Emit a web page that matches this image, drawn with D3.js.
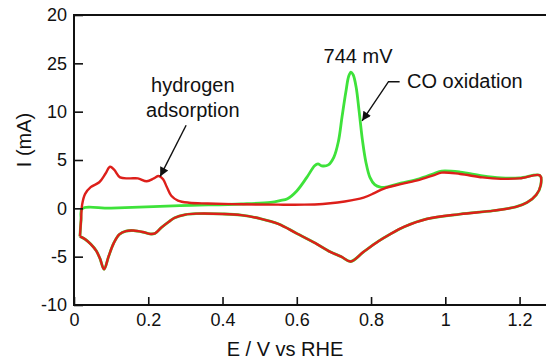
<!DOCTYPE html>
<html lang="en">
<head>
    <meta charset="UTF-8">
    <title>CO stripping voltammogram</title>
    <script src="https://d3js.org/d3.v7.min.js"></script>
    <style>
        body {
            margin: 0;
            background: #fff;
        }
        svg text {
            font-family: "Liberation Sans", Arial, Helvetica, sans-serif;
            fill: #111;
        }
        .tick text {
            font-size: 18px;
        }
        .label {
            font-size: 20px;
        }
    </style>
</head>
<body>
    <div id="chart"></div>
    <script>
        // anodic sweep of the blank CV (red), [E (V), I (mA)]
        const redForward = [
            [0.016, -2.9], [0.019, -1.2], [0.022, 0.4], [0.03, 1.5], [0.045, 2.2],
            [0.068, 2.7], [0.085, 3.6], [0.097, 4.3], [0.108, 4.0], [0.124, 3.2],
            [0.15, 3.1], [0.172, 3.1], [0.196, 2.8], [0.215, 3.1], [0.228, 3.35],
            [0.24, 3.0], [0.25, 2.2], [0.262, 1.3], [0.28, 0.8], [0.31, 0.58],
            [0.36, 0.5], [0.45, 0.42], [0.55, 0.38], [0.62, 0.38], [0.67, 0.45],
            [0.71, 0.6], [0.75, 0.85], [0.78, 1.1], [0.81, 1.6], [0.835, 2.05],
            [0.88, 2.5], [0.93, 2.95], [0.968, 3.4], [0.99, 3.7], [1.04, 3.55],
            [1.1, 3.2], [1.15, 3.05], [1.2, 3.1], [1.255, 3.4]
        ];

        // anodic sweep with adsorbed CO (green)
        const greenForward = [
            [0.016, -2.9], [0.019, -1.2], [0.022, -0.05], [0.1, 0.02], [0.285, 0.28],
            [0.45, 0.45], [0.53, 0.62], [0.555, 0.8], [0.575, 1.0], [0.6, 1.8],
            [0.627, 3.2], [0.648, 4.4], [0.657, 4.6], [0.667, 4.4], [0.685, 4.5],
            [0.7, 5.3], [0.712, 6.9], [0.722, 9.5], [0.732, 12.0], [0.74, 13.7],
            [0.746, 14.1], [0.752, 13.8], [0.76, 12.5], [0.768, 10.0], [0.777, 7.0],
            [0.786, 4.8], [0.797, 3.2], [0.81, 2.45], [0.825, 2.2], [0.84, 2.2],
            [0.88, 2.6], [0.93, 3.05], [0.97, 3.6], [0.99, 3.85], [1.04, 3.75],
            [1.1, 3.35], [1.15, 3.15], [1.2, 3.15], [1.255, 3.4]
        ];

        // cathodic sweep, the same for both scans
        const backward = [
            [1.257, 2.4], [1.245, 1.4], [1.22, 0.6], [1.19, 0.15], [1.13, -0.24],
            [1.04, -0.6], [0.95, -1.1], [0.89, -1.9], [0.85, -2.7], [0.82, -3.4],
            [0.78, -4.5], [0.745, -5.5], [0.72, -5.0], [0.69, -4.5], [0.65, -3.6],
            [0.6, -2.6], [0.55, -1.6], [0.5, -1.05], [0.45, -0.7], [0.4, -0.58],
            [0.33, -0.55], [0.3, -0.65], [0.27, -1.0], [0.255, -1.4], [0.235, -2.0],
            [0.218, -2.6], [0.205, -2.65], [0.185, -2.45], [0.16, -2.3], [0.14, -2.35],
            [0.122, -2.7], [0.107, -3.6], [0.093, -5.0], [0.081, -6.3], [0.07, -5.2],
            [0.06, -4.4], [0.045, -3.7], [0.03, -3.2], [0.016, -2.9]
        ];

        const xTicks = [0, 0.2, 0.4, 0.6, 0.8, 1, 1.2];
        const yTicks = [-10, -5, 0, 5, 10, 15, 20];
        const yTickLabels = ["-10", "-5", "0", "5", "10", "25", "20"];

        const width = 546;
        const height = 363;

        const svg = d3.select("#chart")
            .append("svg")
            .attr("width", width)
            .attr("height", height);

        const x = d3.scaleLinear().domain([0, 1.3]).range([74, 556.7]);
        const y = d3.scaleLinear().domain([-10, 20]).range([305, 15]);

        const line = d3.line()
            .x(d => x(d[0]))
            .y(d => y(d[1]))
            .curve(d3.curveCatmullRom.alpha(0.5));

        // curves: green below, red on top
        svg.append("path")
            .datum(greenForward.concat(backward))
            .attr("fill", "none")
            .attr("stroke", "#3ee23a")
            .attr("stroke-width", 2.8)
            .attr("d", line);

        svg.append("path")
            .datum(redForward.concat(backward))
            .attr("fill", "none")
            .attr("stroke", "#dd1f1a")
            .attr("stroke-width", 2.4)
            .attr("d", line);

        // frame (right side runs past the picture)
        svg.append("rect")
            .attr("x", x(0))
            .attr("y", y(20))
            .attr("width", x(1.3) - x(0))
            .attr("height", y(-10) - y(20))
            .attr("fill", "none")
            .attr("stroke", "#111")
            .attr("stroke-width", 2);

        // axes with inward ticks
        const xAxis = svg.append("g")
            .attr("transform", `translate(0,${y(-10)})`)
            .call(d3.axisBottom(x)
                .tickValues(xTicks)
                .tickFormat(d3.format("~g"))
                .tickSizeInner(-8)
                .tickSizeOuter(0)
                .tickPadding(8));

        const yAxis = svg.append("g")
            .attr("transform", `translate(${x(0)},0)`)
            .call(d3.axisLeft(y)
                .tickValues(yTicks)
                .tickFormat((d, i) => yTickLabels[i])
                .tickSizeInner(-9)
                .tickSizeOuter(0)
                .tickPadding(7));

        [xAxis, yAxis].forEach(g => {
            g.select(".domain").remove();
            g.selectAll(".tick line").attr("stroke", "#111").attr("stroke-width", 1.6);
            g.selectAll(".tick text").attr("fill", "#111");
        });

        // axis titles
        svg.append("text")
            .attr("class", "label")
            .attr("x", 285)
            .attr("y", 356)
            .attr("text-anchor", "middle")
            .text("E / V vs RHE");

        svg.append("text")
            .attr("class", "label")
            .attr("transform", "translate(31,140) rotate(-90)")
            .attr("text-anchor", "middle")
            .text("I (mA)");

        // annotations
        svg.append("defs").append("marker")
            .attr("id", "head")
            .attr("viewBox", "0 0 10 10")
            .attr("refX", 10)
            .attr("refY", 5)
            .attr("markerWidth", 11)
            .attr("markerHeight", 9)
            .attr("markerUnits", "userSpaceOnUse")
            .attr("orient", "auto")
            .append("path")
            .attr("d", "M0,0L10,5L0,10Z")
            .attr("fill", "#111");

        svg.append("text")
            .attr("class", "label")
            .attr("x", x(0.32))
            .attr("y", y(12.0))
            .attr("text-anchor", "middle")
            .text("hydrogen");

        svg.append("text")
            .attr("class", "label")
            .attr("x", x(0.32))
            .attr("y", y(9.45))
            .attr("text-anchor", "middle")
            .text("adsorption");

        svg.append("path")
            .attr("d", d3.line()([[x(0.302), y(8.6)], [x(0.232), y(3.3)]]))
            .attr("stroke", "#111")
            .attr("stroke-width", 1.4)
            .attr("fill", "none")
            .attr("marker-end", "url(#head)");

        svg.append("text")
            .attr("class", "label")
            .attr("x", x(0.765))
            .attr("y", y(15.0))
            .attr("text-anchor", "middle")
            .text("744 mV");

        svg.append("text")
            .attr("class", "label")
            .attr("x", x(0.897))
            .attr("y", y(12.4))
            .text("CO oxidation");

        svg.append("path")
            .attr("d", d3.line()([[x(0.877), y(13.1)], [x(0.847), y(13.1)], [x(0.776), y(9.05)]]))
            .attr("stroke", "#111")
            .attr("stroke-width", 1.4)
            .attr("fill", "none")
            .attr("marker-end", "url(#head)");
    </script>
</body>
</html>
